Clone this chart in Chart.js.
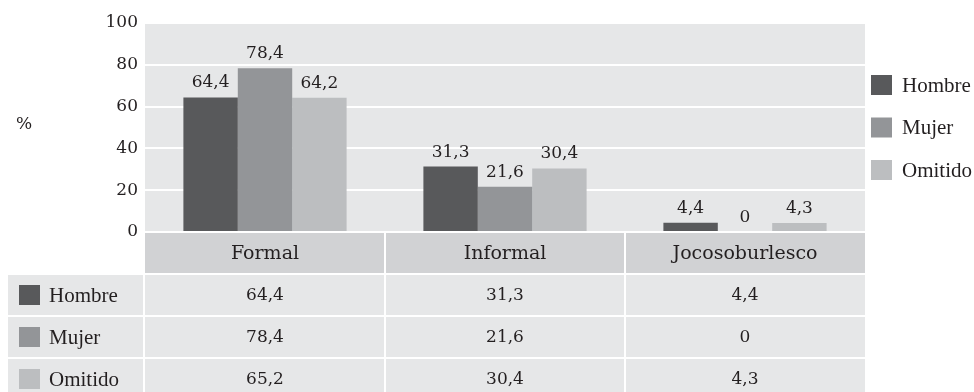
<!DOCTYPE html>
<html>
<head>
<meta charset="utf-8">
<script src="https://cdn.jsdelivr.net/npm/chart.js@4/dist/chart.umd.min.js"></script>
<style>
body { margin: 0; background: #fff; }
#caja { position: relative; width: 974px; height: 392px; }
</style>
</head>
<body>
<div id="caja"><canvas id="grafico"></canvas></div>
<script>
const categorias = ['Formal', 'Informal', 'Jocosoburlesco'];
const series = ['Hombre', 'Mujer', 'Omitido'];
const hombre = [64.4, 31.3, 4.4];
const mujer = [78.4, 21.6, 0];
const omitido = [64.2, 30.4, 4.3];
// valores tal como aparecen en la tabla inferior
const tablaOmitido = [65.2, 30.4, 4.3];
const ticksY = [0, 20, 40, 60, 80, 100];

const colores = ['#58595b', '#939598', '#bcbec0'];
const fondo = '#e6e7e8';
const fondoCabecera = '#d1d2d4';
const tinta = '#231f20';
const serifNum = '"DejaVu Serif", serif';
const serifTexto = '"Liberation Serif", serif';

function coma(v) {
    return String(v).replace('.', ',');
}

const dibujoExtra = {
    id: 'dibujoExtra',
    beforeDraw(chart) {
        const ctx = chart.ctx;
        const a = chart.chartArea;
        ctx.save();
        ctx.fillStyle = fondo;
        ctx.fillRect(a.left, a.top, a.right - a.left, a.bottom - a.top);
        ctx.restore();
    },
    afterDatasetsDraw(chart) {
        const ctx = chart.ctx;
        ctx.save();
        ctx.fillStyle = tinta;
        ctx.font = '17px ' + serifNum;
        ctx.textAlign = 'center';
        ctx.textBaseline = 'alphabetic';
        chart.data.datasets.forEach((ds, i) => {
            chart.getDatasetMeta(i).data.forEach((barra, j) => {
                ctx.fillText(coma(ds.data[j]), barra.x, barra.y - 10);
            });
        });
        ctx.restore();
    },
    afterDraw(chart) {
        const ctx = chart.ctx;
        const a = chart.chartArea;
        const x = chart.scales.x;
        const ancho = (a.right - a.left) / categorias.length;
        ctx.save();

        // simbolo de porcentaje del eje
        ctx.fillStyle = tinta;
        ctx.font = '17px ' + serifNum;
        ctx.textAlign = 'center';
        ctx.textBaseline = 'middle';
        ctx.fillText('%', 24, 125);

        // leyenda a la derecha
        series.forEach((s, i) => {
            const cy = 85 + i * 42.5;
            ctx.fillStyle = colores[i];
            ctx.fillRect(871, cy - 10, 21, 20);
            ctx.fillStyle = tinta;
            ctx.font = '21px ' + serifTexto;
            ctx.textAlign = 'left';
            ctx.fillText(s, 902, cy + 1);
        });

        // tabla de datos
        const arriba = a.bottom + 1;
        const altoCab = 40;
        const altoFila = 42;
        categorias.forEach((c, j) => {
            const cx = x.getPixelForValue(j);
            const x0 = cx - ancho / 2 + (j > 0 ? 1 : 0);
            const x1 = cx + ancho / 2 - (j < categorias.length - 1 ? 1 : 0);
            ctx.fillStyle = fondoCabecera;
            ctx.fillRect(x0, arriba, x1 - x0, altoCab);
            ctx.fillStyle = tinta;
            ctx.font = '19px ' + serifNum;
            ctx.textAlign = 'center';
            ctx.fillText(c, cx, arriba + altoCab / 2 + 1);
        });

        const filas = [hombre, mujer, tablaOmitido];
        filas.forEach((fila, i) => {
            const y0 = arriba + altoCab + 2 + i * altoFila;
            const cy = y0 + (altoFila - 2) / 2;
            ctx.fillStyle = fondo;
            ctx.fillRect(8, y0, a.left - 2 - 8, altoFila - 2);
            ctx.fillStyle = colores[i];
            ctx.fillRect(19, cy - 10, 21, 20);
            ctx.fillStyle = tinta;
            ctx.font = '21px ' + serifTexto;
            ctx.textAlign = 'left';
            ctx.fillText(series[i], 49, cy + 1);
            fila.forEach((v, j) => {
                const cx = x.getPixelForValue(j);
                const x0 = cx - ancho / 2 + (j > 0 ? 1 : 0);
                const x1 = cx + ancho / 2 - (j < categorias.length - 1 ? 1 : 0);
                ctx.fillStyle = fondo;
                ctx.fillRect(x0, y0, x1 - x0, altoFila - 2);
                ctx.fillStyle = tinta;
                ctx.font = '17px ' + serifNum;
                ctx.textAlign = 'center';
                ctx.fillText(coma(v), cx, cy + 1);
            });
        });
        ctx.restore();
    }
};

new Chart(document.getElementById('grafico'), {
    type: 'bar',
    data: {
        labels: categorias,
        datasets: [
            { label: series[0], data: hombre, backgroundColor: colores[0] },
            { label: series[1], data: mujer, backgroundColor: colores[1] },
            { label: series[2], data: omitido, backgroundColor: colores[2] }
        ]
    },
    plugins: [dibujoExtra],
    options: {
        responsive: true,
        maintainAspectRatio: false,
        animation: false,
        layout: { padding: { left: 0, top: 23, right: 109, bottom: 160 } },
        datasets: { bar: { categoryPercentage: 0.68, barPercentage: 1.0 } },
        plugins: { legend: { display: false }, tooltip: { enabled: false } },
        scales: {
            x: { display: false },
            y: {
                min: ticksY[0],
                max: ticksY[ticksY.length - 1],
                afterBuildTicks: s => { s.ticks = ticksY.map(v => ({ value: v })); },
                afterFit: s => { s.width = 145; },
                border: { display: false },
                grid: { color: '#ffffff', lineWidth: 2, drawTicks: false },
                ticks: {
                    padding: 7,
                    color: tinta,
                    font: { family: serifNum, size: 17 }
                }
            }
        }
    }
});
</script>
</body>
</html>
